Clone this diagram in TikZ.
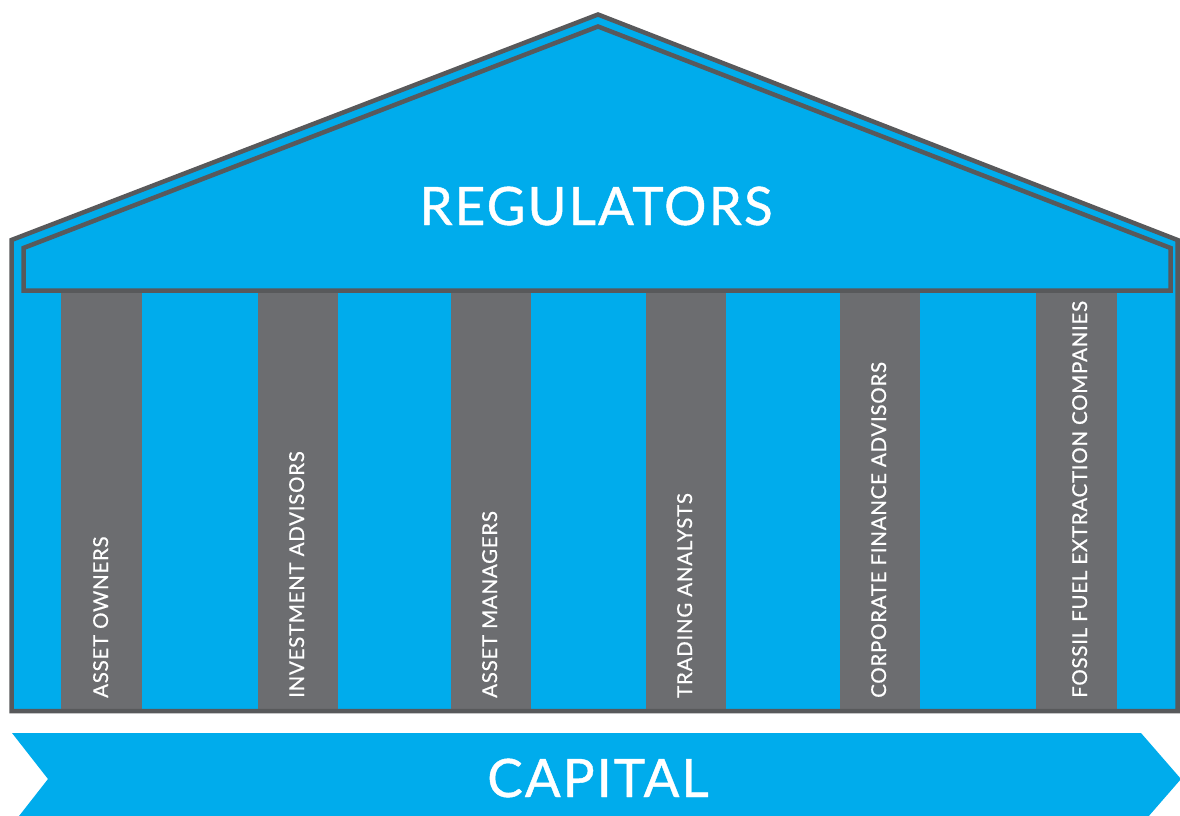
\documentclass[tikz,border=0pt]{standalone}
\usepackage{fontspec}
\setmainfont{Lato}
\newfontfamily\bigfont[LetterSpace=4, FakeBold=0.8]{Lato}
\newfontfamily\smallfont[LetterSpace=3.5, FakeBold=0.6]{Lato}
\definecolor{skyblue}{RGB}{0,172,236}
\definecolor{colgray}{RGB}{108,109,112}
\definecolor{linegray}{RGB}{88,89,91}
\tikzset{
  pillar/.style={fill=colgray, draw=none},
  outline/.style={draw=linegray, line width=4.5pt, line join=miter},
  pillartext/.style={rotate=90, anchor=base west, text=white, font=\smallfont\fontsize{20.5}{22}\selectfont, inner sep=0pt},
  bigtext/.style={text=white, font=\bigfont\fontsize{53}{60}\selectfont, inner sep=0pt, anchor=base}
}
\begin{document}
\begin{tikzpicture}[x=1pt, y=-1pt]
\useasboundingbox (0,0) rectangle (1180,816);
\clip (0,0) rectangle (1180,816);
% building body
\fill[skyblue] (11.5,711) -- (11.5,240) -- (598,14.5) -- (1177.5,240) -- (1177.5,711) -- cycle;
% pillars
\fill[pillar] (61,293) rectangle (141.5,711);
\fill[pillar] (257.5,293) rectangle (337.5,711);
\fill[pillar] (450.5,293) rectangle (530.5,711);
\fill[pillar] (645.5,293) rectangle (725.5,711);
\fill[pillar] (839.5,293) rectangle (919.5,711);
\fill[pillar] (1036,293) rectangle (1116.5,711);
% outlines
\draw[outline] (11.5,711) -- (11.5,240) -- (598,14.5) -- (1177.5,240) -- (1177.5,711) -- cycle;
\draw[outline] (23.5,290.5) -- (23.5,248) -- (598,26.5) -- (1170.5,248) -- (1170.5,290.5) -- cycle;
% labels
\node[bigtext] (reg) at (596,225) {REGULATORS};
\node[pillartext] (p1) at (108,698) {ASSET OWNERS};
\node[pillartext] (p2) at (304,698) {INVESTMENT ADVISORS};
\node[pillartext] (p3) at (497,698) {ASSET MANAGERS};
\node[pillartext] (p4) at (692,698) {TRADING ANALYSTS};
\node[pillartext] (p5) at (886,698) {CORPORATE FINANCE ADVISORS};
\node[pillartext] (p6) at (1087,698) {FOSSIL FUEL EXTRACTION COMPANIES};
% capital arrow
\fill[skyblue] (12,733) -- (1141,733) -- (1181,779) -- (1141,825) -- (12,825) -- (48,779) -- cycle;
\node[bigtext] (cap) at (598,797) {CAPITAL};
\end{tikzpicture}
\end{document}
